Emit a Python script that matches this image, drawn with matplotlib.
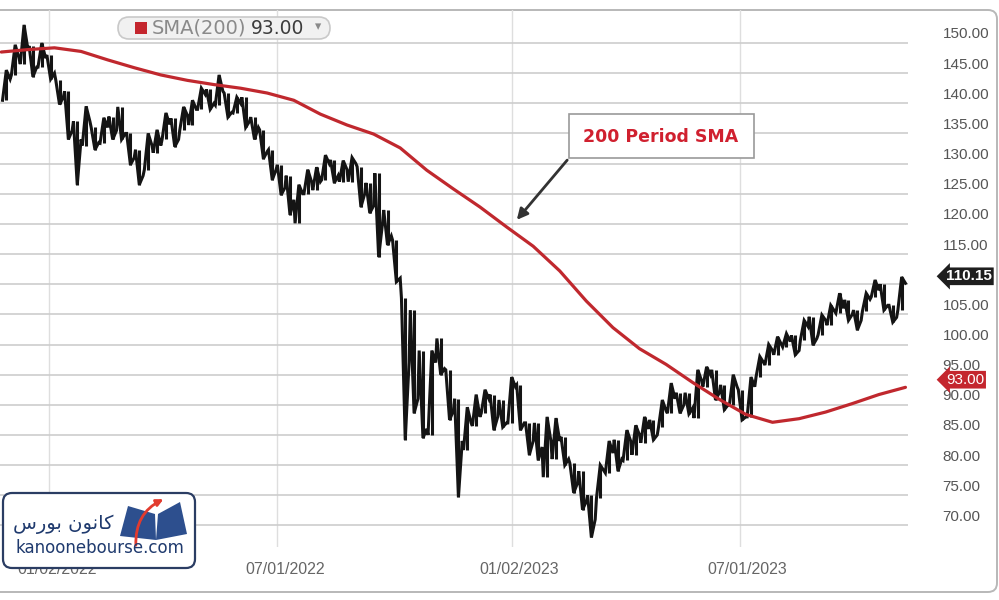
"""Price chart with a 200 period SMA."""
import numpy as np
import pandas as pd
import matplotlib
matplotlib.use('Agg')
import matplotlib.pyplot as plt
import matplotlib.transforms as mtransforms
from matplotlib.patches import FancyBboxPatch, Rectangle, Polygon, FancyArrowPatch

plt.rcParams['font.family'] = ['Liberation Sans', 'DejaVu Sans']

# weekly bars, first week starts 2021-11-29
week_start = '2021-11-29'
price_hi = [145.5, 149.7, 153.0, 149.5, 150.0, 148.0, 143.9, 142.0, 137.0, 139.5,
            136.0, 137.6, 137.8, 139.4, 135.0, 132.3, 135.0, 135.6, 138.4, 137.5,
            139.4, 140.5, 142.5, 142.3, 144.7, 141.7, 141.0, 141.0, 137.7, 135.6,
            132.3, 129.8, 128.0, 126.5, 129.0, 129.4, 131.4, 130.6, 130.5, 131.0,
            129.5, 126.8, 128.4, 122.3, 117.3, 107.7, 105.7, 99.0, 99.0, 101.0,
            95.8, 91.0, 89.6, 91.7, 92.5, 91.7, 90.8, 94.6, 93.3, 87.0,
            87.0, 88.0, 87.8, 84.7, 80.3, 79.0, 75.0, 80.0, 84.0, 84.2,
            85.8, 86.6, 88.0, 87.5, 90.8, 93.6, 92.0, 92.0, 95.8, 96.3,
            95.8, 93.3, 95.0, 92.5, 94.6, 98.0, 100.0, 101.3, 101.8, 101.5,
            104.0, 104.6, 104.9, 106.5, 108.5, 107.4, 105.7, 108.5, 110.7, 110.0,
            106.5, 111.2]
price_lo = [140.5, 144.7, 146.5, 144.4, 146.0, 144.0, 139.8, 134.0, 126.5, 133.0,
            132.3, 133.4, 134.0, 134.0, 129.8, 126.5, 129.0, 131.8, 134.0, 132.8,
            135.6, 136.4, 139.0, 139.0, 139.7, 137.7, 138.4, 136.0, 134.0, 130.8,
            127.3, 124.8, 121.5, 120.1, 125.0, 125.6, 127.3, 126.8, 127.0, 127.0,
            122.8, 121.8, 114.5, 116.5, 110.4, 84.2, 88.6, 84.5, 85.0, 95.0,
            87.5, 74.7, 82.5, 86.5, 88.6, 85.8, 86.3, 87.0, 85.8, 81.7,
            80.8, 78.0, 81.0, 80.0, 75.4, 72.6, 68.0, 74.5, 78.7, 79.0,
            80.8, 81.7, 83.7, 84.2, 86.3, 88.6, 88.6, 88.5, 87.8, 93.0,
            90.8, 89.2, 90.0, 87.5, 88.0, 94.6, 96.6, 98.3, 99.6, 98.3,
            100.7, 99.9, 101.6, 103.2, 105.2, 104.0, 102.4, 105.5, 107.9, 105.7,
            103.7, 105.7]
price_close = [144.0, 147.5, 149.0, 146.0, 147.5, 145.0, 141.0, 135.5, 134.0, 137.0,
               133.5, 136.0, 135.5, 135.0, 131.0, 128.0, 133.0, 133.0, 136.5, 134.0,
               138.0, 139.0, 141.5, 140.0, 142.0, 138.5, 140.0, 137.0, 136.0, 132.0,
               129.0, 126.0, 124.0, 125.0, 127.0, 127.0, 130.0, 128.0, 129.0, 130.0,
               125.0, 123.0, 120.0, 118.0, 111.0, 97.0, 91.0, 86.0, 97.0, 96.0,
               89.0, 84.0, 87.0, 88.0, 91.0, 88.0, 87.0, 93.0, 87.0, 84.0,
               83.0, 84.0, 84.0, 81.0, 77.0, 74.0, 71.0, 79.0, 82.0, 81.0,
               84.0, 85.0, 86.0, 85.0, 89.0, 91.0, 90.0, 89.5, 94.0, 95.0,
               92.0, 90.0, 93.0, 88.0, 93.0, 97.0, 99.0, 100.0, 100.5, 99.0,
               103.0, 101.0, 104.0, 105.5, 106.0, 105.0, 104.0, 107.5, 109.0, 106.5,
               104.5, 110.15]

# SMA(200) read every 3 weeks starting 2021-11-25
sma_start = '2021-11-25'
sma_200 = [148.5, 148.9, 149.2, 148.6, 147.2, 145.9, 144.7, 143.8, 143.1, 142.5,
           141.7, 140.5, 138.2, 136.4, 134.9, 132.6, 128.9, 125.8, 122.8, 119.5,
           116.3, 112.2, 107.2, 102.8, 99.3, 96.7, 93.7, 90.9, 88.4, 87.1,
           87.7, 88.8, 90.2, 91.7, 92.9]

y_ticks = np.arange(70, 151, 5)
x_tick_dates = ['2022-01-02', '2022-07-01', '2023-01-02', '2023-07-01']
x_tick_labels = ['01/02/2022', '07/01/2022', '01/02/2023', '07/01/2023']
last_price = 110.15
last_sma = 93.00

W, H = 999, 600
fig = plt.figure(figsize=(W / 100, H / 100), dpi=100)
# image pixel coordinates (y down)
px = mtransforms.Affine2D().scale(1 / W, -1 / H).translate(0, 1) + fig.transFigure

# outer frame of the chart widget
frame = FancyBboxPatch((-12, 10), 1009, 582, boxstyle='round,pad=0,rounding_size=9',
                       transform=px, fc='white', ec='#b8b8b8', lw=1.4, zorder=-2)
fig.patches.append(frame)

ax = fig.add_axes([0, 1 - 547 / H, 908 / W, 537 / H])
ax.set_facecolor('none')
for s in ax.spines.values():
    s.set_visible(False)

# each week drawn as a small zigzag through its high and low
dates = pd.date_range(week_start, periods=len(price_hi), freq='7D')
step = pd.Timedelta(days=3)
path_x, path_y = [], []
prev = price_close[0]
for d, hi, lo, cl in zip(dates, price_hi, price_lo, price_close):
    first, second = (lo, hi) if cl >= prev else (hi, lo)
    path_x += [d - step, d, d + step]
    path_y += [first, second, cl]
    prev = cl
ax.plot(path_x, path_y, color='#141414', lw=2.2, solid_joinstyle='miter', zorder=3)
ax.vlines(dates, price_lo, price_hi, color='#141414', lw=2.2, zorder=3)

sma_dates = pd.date_range(sma_start, periods=len(sma_200), freq='21D')
ax.plot(sma_dates, sma_200, color='#c0282e', lw=2.3, solid_capstyle='round', zorder=4)

ax.set_xlim(pd.Timestamp('2021-11-24'), pd.Timestamp('2023-11-11'))
ax.set_ylim(66.42, 155.47)

# the 110.00 label sits under the last price marker, as in the source
ax.set_yticks(y_ticks)
ax.set_yticklabels(['' if v == 110 else f'{v:.2f}' for v in y_ticks])
ax.yaxis.tick_right()
ax.tick_params(axis='y', length=0, pad=25, labelsize=11, labelcolor='#555555')
ax.set_xticks(pd.to_datetime(x_tick_dates))
ax.set_xticklabels(x_tick_labels)
ax.tick_params(axis='x', length=0, pad=11, labelsize=11.5, labelcolor='#666666')
ax.yaxis.grid(True, color='#cdcdcd', lw=1.2)
ax.xaxis.grid(True, color='#dedede', lw=1.0)
ax.set_axisbelow(True)

up = mtransforms.ScaledTranslation(0, 0.10, fig.dpi_scale_trans)
right = mtransforms.ScaledTranslation(0.08, 0, fig.dpi_scale_trans)
for lbl in ax.get_yticklabels():
    lbl.set_transform(lbl.get_transform() + up)
for lbl in ax.get_xticklabels():
    lbl.set_transform(lbl.get_transform() + right)

# last value markers
mark_tr = ax.get_yaxis_transform() + mtransforms.ScaledTranslation(0, 0.07, fig.dpi_scale_trans)
ax.text(946 / 908, last_price, f'{last_price:.2f}', transform=mark_tr, ha='left', va='center',
        fontsize=11, fontweight='bold', color='white', clip_on=False, zorder=6,
        bbox=dict(boxstyle='larrow,pad=0.12', fc='#1e1e1e', ec='none'))
ax.text(946 / 908, last_sma, f'{last_sma:.2f}', transform=mark_tr, ha='left', va='center',
        fontsize=11, color='white', clip_on=False, zorder=6,
        bbox=dict(boxstyle='larrow,pad=0.12', fc='#c4262e', ec='none'))

# legend pill
pill = FancyBboxPatch((118, 17), 212, 22, boxstyle='round,pad=0,rounding_size=11',
                      transform=px, fc='#f1f1f1', ec='#c9c9c9', lw=1.2, zorder=5)
fig.patches.append(pill)
fig.patches.append(Rectangle((135, 22), 12, 12, transform=px, fc='#c4262e', ec='none', zorder=6))
fig.text(152, 28, 'SMA(200)', transform=px, ha='left', va='center', fontsize=14,
         color='#8a8a8a', family='DejaVu Sans', zorder=6)
fig.text(251, 28, f'{last_sma:.2f}', transform=px, ha='left', va='center', fontsize=13.5,
         color='#3c3c3c', family='DejaVu Sans', zorder=6)
fig.text(318, 27, '▾', transform=px, ha='center', va='center', fontsize=9,
         color='#8a8a8a', family='DejaVu Sans', zorder=6)

# callout
fig.patches.append(Rectangle((569, 114), 185, 44, transform=px, fc='white', ec='#9a9a9a',
                             lw=1.2, zorder=5))
fig.text(661, 137, '200 Period SMA', transform=px, ha='center', va='center', fontsize=12.5,
         fontweight='bold', color='#d0202f', family='DejaVu Sans', zorder=6)
fig.patches.append(FancyArrowPatch((569, 158), (515, 222), transform=px, arrowstyle='-|>',
                                   mutation_scale=16, color='#333333', lw=2.0, zorder=6))

# logo
fig.patches.append(FancyBboxPatch((3, 493), 192, 75, boxstyle='round,pad=0,rounding_size=9',
                                  transform=px, fc='white', ec='#2b3d63', lw=1.6, zorder=7))
fig.patches.append(Polygon([(120, 536), (128, 506), (155, 514), (156, 540)], closed=True,
                           transform=px, fc='#2d4f8e', ec='none', zorder=8))
fig.patches.append(Polygon([(156, 540), (158, 514), (180, 502), (187, 534)], closed=True,
                           transform=px, fc='#2d4f8e', ec='none', zorder=8))
fig.patches.append(FancyArrowPatch((136, 548), (166, 498), transform=px, arrowstyle='-|>',
                                   connectionstyle='arc3,rad=-0.35', mutation_scale=10,
                                   color='#e23b2e', lw=2.0, zorder=9))
fig.text(63, 524, '\ufeb1\ufead\ufeee\ufe91 \ufee5\ufeee\ufee7\ufe8e\ufb90', transform=px,
         ha='center', va='center', fontsize=14, color='#1f3a6e', family='DejaVu Sans', zorder=9)
fig.text(100, 548, 'kanoonebourse.com', transform=px, ha='center', va='center', fontsize=12,
         color='#1f3a6e', family='DejaVu Sans', zorder=9)

fig.savefig('out.png', dpi=100, facecolor='white')
